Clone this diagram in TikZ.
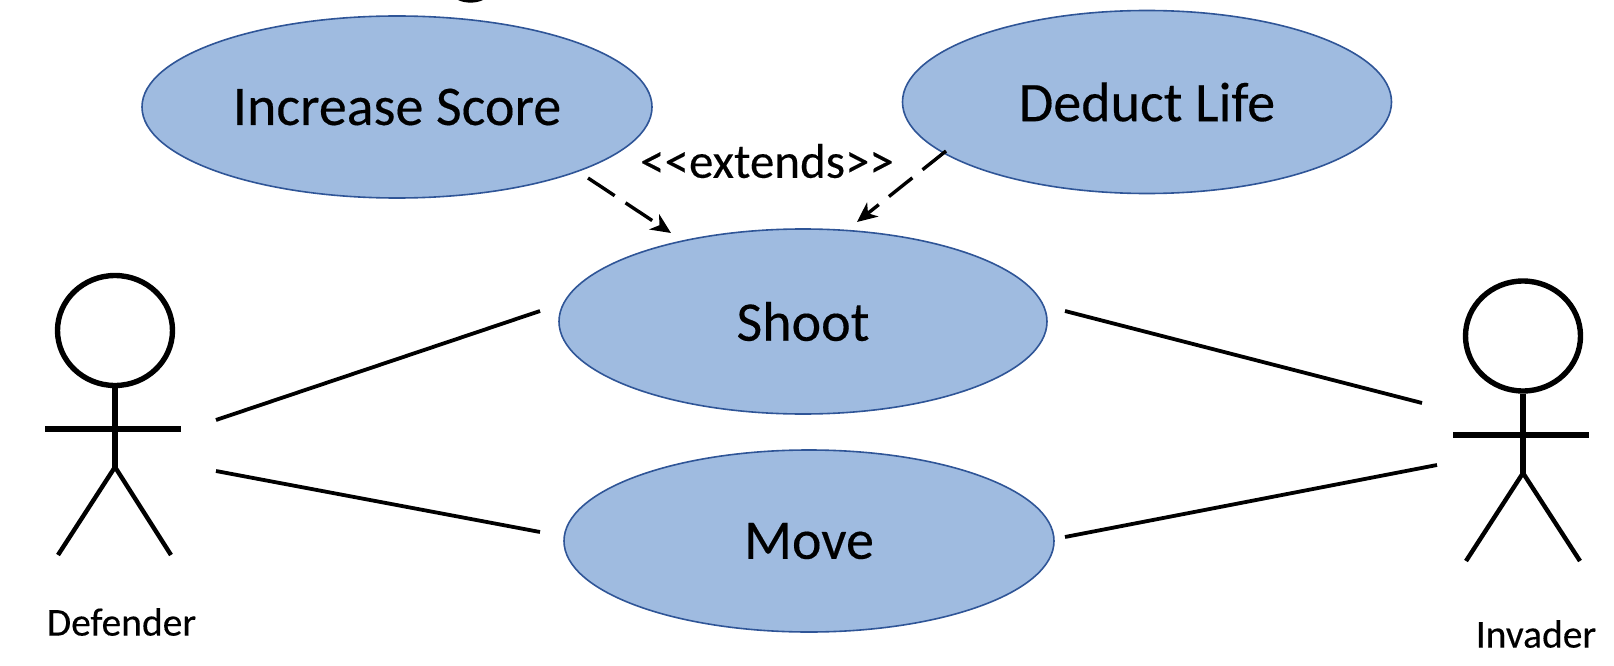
\documentclass[tikz,border=0pt]{standalone}
\usepackage{fontspec}
\newfontfamily\calib[FakeBold=0.25]{Carlito}
\usetikzlibrary{shapes.geometric,arrows.meta}
\definecolor{ucfill}{HTML}{9FBBE0}
\definecolor{ucedge}{HTML}{2F5597}
\tikzset{
  x=1pt,y=-1pt,
  usecase/.style={ellipse,draw=ucedge,line width=1.6pt,fill=ucfill,inner sep=0pt,font=\calib\fontsize{56}{64}\selectfont},
  actorline/.style={line width=5.5pt},
  limb/.style={line width=4.4pt},
  assoc/.style={line width=3.8pt},
  extl/.style={line width=3.4pt,dash pattern=on 32pt off 13pt,-{Stealth[length=20pt,width=18pt,inset=6pt]}},
  extr/.style={line width=3.4pt,dash pattern=on 30pt off 13pt,-{Stealth[length=20pt,width=18pt,inset=6pt]}},
  actorlabel/.style={font=\calib\fontsize{39.5}{44}\selectfont},
}
\begin{document}
\begin{tikzpicture}
\useasboundingbox (0,0) rectangle (1614,666);
\fill (458,0) .. controls (465,3.5) and (476,3.5) .. (483,0) -- cycle;
\node[usecase,minimum width=510pt,minimum height=182pt] (inc) at (397,107) {Increase Score};
\node[usecase,minimum width=489pt,minimum height=183pt] (ded) at (1147,102) {Deduct Life};
\node[usecase,minimum width=488pt,minimum height=185pt] (sho) at (803,321.5) {Shoot};
\node[usecase,minimum width=490pt,minimum height=182pt] (mov) at (809,541) {\raisebox{-2pt}{Move}};
\node[font=\calib\fontsize{49}{56}\selectfont] (lab) at (767,161) {<<extends>>};
% Defender
\node[ellipse,draw,line width=5.4pt,minimum width=115pt,minimum height=110pt,inner sep=0pt] (dh) at (115,330.5) {};
\coordinate (dn) at (115,467);
\coordinate (dal) at (45,429);
\coordinate (dar) at (181,429);
\coordinate (dfl) at (58,555);
\coordinate (dfr) at (171,555);
\draw[actorline] (dh.south) -- (dn);
\draw[actorline] (dal) -- (dar);
\draw[limb] (dfl) -- (dn) -- (dfr);
\node[actorlabel] (dl) at (121.5,622) {Defender};
% Invader
\node[ellipse,draw,line width=5.4pt,minimum width=115pt,minimum height=110pt,inner sep=0pt] (ih) at (1523,336) {};
\coordinate (in) at (1523,473);
\coordinate (ial) at (1453,435);
\coordinate (iar) at (1589,435);
\coordinate (ifl) at (1466,561);
\coordinate (ifr) at (1580,561);
\draw[actorline] (ih.south) -- (in);
\draw[actorline] (ial) -- (iar);
\draw[limb] (ifl) -- (in) -- (ifr);
\node[actorlabel] (il) at (1536,634) {Invader};
% connector ends
\coordinate (a1) at (216,420); \coordinate (a2) at (540,311);
\coordinate (b1) at (216,471); \coordinate (b2) at (540,532);
\coordinate (c1) at (1065,311); \coordinate (c2) at (1422,403);
\coordinate (d1) at (1065,537); \coordinate (d2) at (1437,465);
\draw[assoc] (a1) -- (a2);
\draw[assoc] (b1) -- (b2);
\draw[assoc] (c1) -- (c2);
\draw[assoc] (d1) -- (d2);
\coordinate (e1) at (588,178); \coordinate (e2) at (671,233);
\coordinate (f1) at (946,151); \coordinate (f2) at (857,222);
\draw[extl] (e1) -- (e2);
\draw[extr] (f1) -- (f2);
\end{tikzpicture}
\end{document}
